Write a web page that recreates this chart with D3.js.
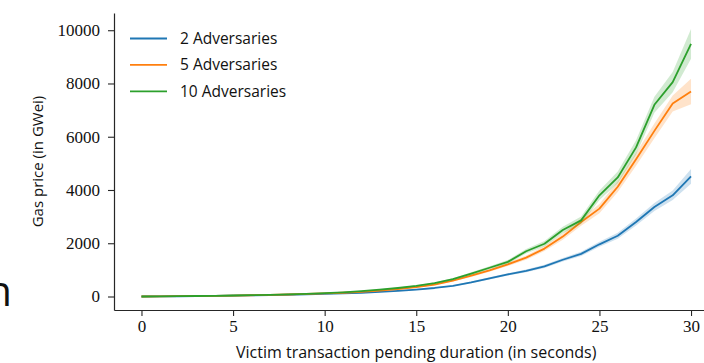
<!DOCTYPE html>
<html>
<head>
<meta charset="utf-8">
<script src="https://cdn.jsdelivr.net/npm/d3@7"></script>
<style>
  html, body { margin: 0; padding: 0; background: #fff; }
  svg { display: block; }
</style>
</head>
<body>
<svg id="chart" width="704" height="363"></svg>
<script>
// Pending duration of the victim transaction, in seconds
const durations = d3.range(0, 31);

// Mean gas price (GWei) bid per duration
const twoAdversaries = [0, 5, 10, 16, 22, 30, 40, 52, 65, 80, 95, 115, 140, 170, 210, 260, 320, 400, 530, 680, 830, 960, 1130, 1380, 1600, 1960, 2280, 2800, 3360, 3800, 4510];
const fiveAdversaries = [0, 5, 11, 18, 26, 35, 47, 60, 76, 95, 115, 140, 175, 220, 280, 350, 450, 600, 780, 980, 1210, 1460, 1800, 2250, 2800, 3300, 4120, 5150, 6220, 7250, 7700];
const tenAdversaries = [0, 6, 12, 19, 27, 37, 49, 63, 80, 100, 125, 155, 200, 255, 320, 400, 500, 650, 860, 1080, 1300, 1700, 1980, 2500, 2860, 3800, 4470, 5600, 7200, 8050, 9490];

// Half-width of the confidence band around each mean
const twoCI = [0, 1, 1, 2, 2, 3, 3, 4, 5, 6, 7, 8, 10, 12, 15, 18, 22, 27, 33, 40, 45, 50, 60, 70, 80, 95, 110, 130, 150, 180, 280];
const fiveCI = [0, 1, 1, 2, 2, 3, 3, 4, 5, 6, 7, 9, 11, 14, 18, 22, 28, 35, 45, 55, 65, 80, 95, 115, 140, 170, 200, 240, 280, 300, 480];
const tenCI = [0, 1, 1, 2, 2, 3, 3, 4, 5, 6, 8, 10, 12, 15, 19, 24, 30, 38, 48, 60, 70, 85, 100, 120, 140, 180, 220, 270, 300, 380, 560];

const seriesNames = ["2 Adversaries", "5 Adversaries", "10 Adversaries"];
const seriesValues = [twoAdversaries, fiveAdversaries, tenAdversaries];
const seriesCI = [twoCI, fiveCI, tenCI];
const seriesColors = ["#1f77b4", "#ff7f0e", "#2ca02c"];

const xTicks = [0, 5, 10, 15, 20, 25, 30];
const yTicks = [0, 2000, 4000, 6000, 8000, 10000];

const svg = d3.select("#chart");

const plot = { left: 114, right: 718.5, top: 13, bottom: 310 };

const x = d3.scaleLinear().domain([-1.5, 31.5]).range([plot.left, plot.right]);
const y = d3.scaleLinear().domain([-507, 10647]).range([plot.bottom, plot.top]);

const serif = "'Liberation Serif', 'DejaVu Serif', serif";
const sans = "'Open Sans', 'DejaVu Sans', sans-serif";
const ink = "#262626";

// Bands and lines
const area = d3.area()
  .x((d) => x(d.t))
  .y0((d) => y(d.v - d.ci))
  .y1((d) => y(d.v + d.ci));
const line = d3.line().x((d) => x(d.t)).y((d) => y(d.v));

const marks = svg.append("g");
seriesValues.forEach((vals, i) => {
  const pts = durations.map((t, j) => ({ t, v: vals[j], ci: seriesCI[i][j] }));
  marks.append("path")
    .attr("d", area(pts))
    .attr("fill", seriesColors[i])
    .attr("fill-opacity", 0.22)
    .attr("stroke", "none");
  marks.append("path")
    .attr("d", line(pts))
    .attr("fill", "none")
    .attr("stroke", seriesColors[i])
    .attr("stroke-width", 1.8)
    .attr("stroke-linejoin", "round");
});

// Axes (left and bottom spines only)
const yAxis = svg.append("g")
  .attr("transform", `translate(${plot.left},0)`)
  .call(d3.axisLeft(y).tickValues(yTicks).tickFormat(d3.format("d")).tickSize(6).tickSizeOuter(0).tickPadding(8));
const xAxis = svg.append("g")
  .attr("transform", `translate(0,${plot.bottom})`)
  .call(d3.axisBottom(x).tickValues(xTicks).tickFormat(d3.format("d")).tickSize(6).tickSizeOuter(0).tickPadding(4));

[yAxis, xAxis].forEach((g) => {
  g.select(".domain").attr("stroke", ink).attr("stroke-width", 1.2);
  g.selectAll(".tick line").attr("stroke", ink).attr("stroke-width", 1.1);
  g.selectAll(".tick text")
    .attr("fill", "#111")
    .style("font-family", serif)
    .style("font-size", "17px");
});

// Axis titles
svg.append("text")
  .attr("x", x(15))
  .attr("y", 358)
  .attr("text-anchor", "middle")
  .attr("fill", "#111")
  .style("font-family", sans)
  .style("font-size", "16px")
  .text("Victim transaction pending duration (in seconds)");

svg.append("text")
  .attr("transform", `translate(43,${(plot.top + plot.bottom) / 2}) rotate(-90)`)
  .attr("text-anchor", "middle")
  .attr("fill", "#111")
  .style("font-family", sans)
  .style("font-size", "15px")
  .text("Gas price (in GWei)");

// Legend
const legend = svg.append("g").attr("transform", "translate(130,38.5)");
seriesNames.forEach((name, i) => {
  const row = legend.append("g").attr("transform", `translate(0,${i * 26.4})`);
  row.append("line")
    .attr("x1", 0).attr("x2", 37)
    .attr("y1", 0).attr("y2", 0)
    .attr("stroke", seriesColors[i])
    .attr("stroke-width", 1.8);
  row.append("text")
    .attr("x", 50)
    .attr("y", 0)
    .attr("dy", "0.36em")
    .attr("fill", "#111")
    .style("font-family", sans)
    .style("font-size", "15.5px")
    .text(name);
});

// Edge of the neighbouring panel's label
svg.append("text")
  .attr("x", 12)
  .attr("y", 306)
  .attr("text-anchor", "end")
  .attr("fill", "#111")
  .style("font-family", sans)
  .style("font-size", "42px")
  .text("n");
</script>
</body>
</html>
